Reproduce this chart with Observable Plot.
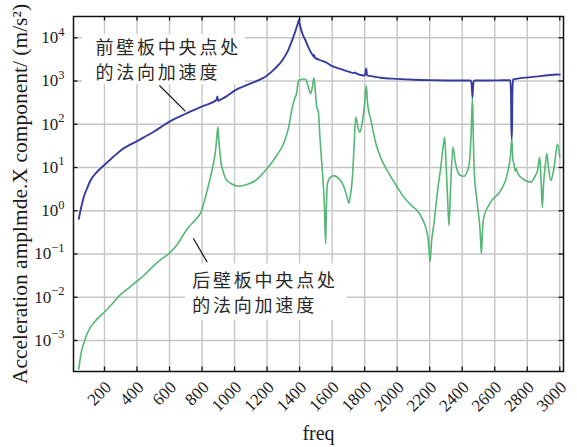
<!DOCTYPE html>
<html>
<head>
<meta charset="utf-8">
<script src="https://cdn.jsdelivr.net/npm/d3@7"></script>
<script src="https://cdn.jsdelivr.net/npm/@observablehq/plot@0.6"></script>
<style>
  html, body { margin: 0; padding: 0; background: #fff; }
  #chart { width: 577px; height: 447px; }
</style>
</head>
<body>
<div id="chart"></div>
<script>
// Front wall panel, centre point: normal acceleration (frequency Hz, m/s^2)
const frontFreq = [42, 52, 62, 72, 90, 114, 150, 196, 250, 300, 400, 500, 600, 700, 790, 850, 880, 890, 894, 898, 905, 950, 1000, 1100, 1200, 1250, 1293, 1330, 1354, 1375, 1390, 1396, 1402, 1415, 1436, 1460, 1480, 1486, 1489, 1493, 1520, 1560, 1591, 1650, 1700, 1734, 1742, 1750, 1797, 1803, 1810, 1815, 1850, 1898, 2000, 2104, 2200, 2309, 2400, 2450, 2456, 2460, 2463, 2466, 2470, 2476, 2550, 2650, 2696, 2700, 2703, 2706, 2709, 2713, 2719, 2822, 2900, 2985, 3000];
const frontAcc  = [0.65, 1.0, 1.45, 2.05, 3.1, 5.0, 7.6, 11.1, 17, 24.8, 40.6, 66, 115, 175, 250, 305, 345, 380, 440, 345, 355, 440, 600, 880, 1340, 1950, 2990, 5200, 8700, 14500, 22000, 26000, 20000, 13000, 8700, 5400, 4000, 3700, 4000, 3500, 3100, 2730, 2300, 1900, 1650, 1520, 1580, 1480, 1340, 1400, 1950, 1350, 1280, 1190, 1120, 1070, 1045, 1030, 1025, 1030, 950, 650, 420, 650, 950, 1030, 1030, 1040, 1045, 500, 46, 46, 600, 1080, 1100, 1230, 1320, 1415, 1400];

// Rear wall panel, centre point: normal acceleration (frequency Hz, m/s^2)
const rearFreq = [42, 52, 62, 72, 93, 114, 150, 198, 250, 298, 350, 400, 450, 503, 550, 600, 650, 688, 720, 760, 797, 820, 842, 865, 883, 892, 897, 902, 915, 930, 945, 980, 1027, 1080, 1129, 1190, 1252, 1300, 1334, 1350, 1370, 1381, 1390, 1396, 1410, 1426, 1440, 1455, 1467, 1478, 1488, 1495, 1505, 1515, 1525, 1540, 1552, 1560, 1565, 1571, 1590, 1611, 1640, 1670, 1690, 1703, 1712, 1725, 1735, 1745, 1752, 1760, 1772, 1785, 1800, 1810, 1818, 1839, 1870, 1898, 1950, 2001, 2042, 2090, 2124, 2155, 2175, 2192, 2202, 2212, 2226, 2250, 2268, 2285, 2292, 2300, 2310, 2319, 2328, 2343, 2355, 2370, 2390, 2411, 2430, 2443, 2455, 2463, 2468, 2473, 2493, 2510, 2518, 2525, 2533, 2575, 2637, 2678, 2698, 2705, 2712, 2719, 2725, 2732, 2740, 2780, 2822, 2850, 2863, 2877, 2885, 2893, 2900, 2912, 2920, 2932, 2945, 2965, 2986, 3000];
const rearAcc  = [2.2e-4, 4.1e-4, 6.5e-4, 8.4e-4, 1.43e-3, 2.03e-3, 3.0e-3, 4.5e-3, 7.2e-3, 0.0115, 0.0165, 0.0235, 0.034, 0.054, 0.076, 0.105, 0.17, 0.29, 0.43, 0.62, 1.0, 2.0, 4.2, 10, 24.8, 55, 86, 50, 14.4, 8, 5.5, 4.2, 3.7, 4.1, 5.0, 8.5, 17.3, 35, 90, 200, 400, 507, 900, 1050, 1080, 1130, 1050, 700, 510, 700, 1180, 700, 250, 200, 50, 8, 1.5, 0.17, 1.3, 4.2, 6.0, 6.5, 5.6, 3.8, 2.2, 1.5, 2.2, 6, 30, 146, 120, 80, 66, 110, 300, 790, 300, 123, 35, 17.3, 7.2, 3.5, 2.04, 1.3, 1.0, 0.65, 0.42, 0.2, 0.066, 0.2, 0.5, 3.2, 10, 35, 50, 15, 2.0, 0.45, 3, 29.5, 15, 8.5, 6.5, 6.3, 8, 12.2, 60, 420, 60, 10, 1.45, 0.35, 0.1, 0.35, 0.71, 1.58, 2.95, 7.2, 21, 46, 15, 12.2, 8.3, 9.5, 7.5, 5.2, 4.6, 6.5, 8.5, 17.4, 5, 1.2, 4, 12, 21, 9, 5, 10, 35, 17.4];

// Axis ticks
const xTicks = [200, 400, 600, 800, 1000, 1200, 1400, 1600, 1800, 2000, 2200, 2400, 2600, 2800, 3000];
const yExponents = [-3, -2, -1, 0, 1, 2, 3, 4];

// Texts
const xLabel = "freq";
const yLabel = "Acceleration amplmde.X component/ (m/s²)";
const frontNote = "前壁板中央点处\n的法向加速度";
const rearNote = "后壁板中央点处\n的法向加速度";

const front = frontFreq.map((f, i) => ({f, a: frontAcc[i]}));
const rear = rearFreq.map((f, i) => ({f, a: rearAcc[i]}));
const yTicks = yExponents.map(e => Math.pow(10, e));

// Frame geometry
const W = 577, H = 447;
const mL = 73, mR = 14, mT = 16, mB = 76;
const fw = W - mL - mR, fh = H - mT - mB;
const tickLen = 4.5;

// Annotation anchors (in data units)
const frontBox = {x1: 65, x2: 1067, y1: 830, y2: 11800};
const rearBox = {x1: 698, x2: 1693, y1: 0.0029, y2: 0.059};
const frontText = {f: 144, a: 3320, t: frontNote};
const rearText = {f: 739, a: 0.0136, t: rearNote};
const frontLeader = {x1: 538, y1: 789, x2: 698, y2: 198};
const rearLeader = {x1: 746, y1: 0.232, x2: 832, y2: 0.0645};

const blue = "#363c9e";
const green = "#55b676";
const gridColor = "#c6c6c6";

const chart = Plot.plot({
  width: W,
  height: H,
  marginLeft: mL,
  marginRight: mR,
  marginTop: mT,
  marginBottom: mB,
  style: {fontFamily: "'Liberation Serif', 'Times New Roman', serif", fontSize: "17px", color: "#1a1a1a", background: "#fff"},
  x: {type: "linear", domain: [9.4, 3023], axis: null},
  y: {type: "log", domain: [1.92e-4, 3.1e4], axis: null},
  marks: [
    Plot.gridX(xTicks, {stroke: gridColor, strokeOpacity: 1, strokeWidth: 1.4}),
    Plot.gridY(yTicks, {stroke: gridColor, strokeOpacity: 1, strokeWidth: 1.4}),
    Plot.line(rear, {x: "f", y: "a", stroke: green, strokeWidth: 1.6, curve: "monotone-x"}),
    Plot.line(front, {x: "f", y: "a", stroke: blue, strokeWidth: 1.9, curve: "monotone-x"}),
    // white boxes behind the notes
    Plot.rect([frontBox, rearBox], {x1: "x1", x2: "x2", y1: "y1", y2: "y2", fill: "#fff"}),
    Plot.link([frontLeader, rearLeader], {x1: "x1", y1: "y1", x2: "x2", y2: "y2", stroke: "#111", strokeWidth: 1.2}),
    Plot.text([frontText, rearText], {
      x: "f", y: "a", text: "t", textAnchor: "start", lineAnchor: "middle", lineHeight: 1.38,
      fontFamily: "'Noto Sans CJK SC', sans-serif", fontSize: 18, fill: "#2a2a2a"
    }),
    // inward ticks on all four sides
    Plot.ruleX(xTicks, {x: d => d, insetTop: fh - tickLen, stroke: "#111", strokeWidth: 1.3}),
    Plot.ruleX(xTicks, {x: d => d, insetBottom: fh - tickLen, stroke: "#111", strokeWidth: 1.3}),
    Plot.ruleY(yTicks, {y: d => d, insetRight: fw - tickLen, stroke: "#111", strokeWidth: 1.3}),
    Plot.ruleY(yTicks, {y: d => d, insetLeft: fw - tickLen, stroke: "#111", strokeWidth: 1.3}),
    Plot.frame({stroke: "#111", strokeWidth: 1.5}),
    // tick labels
    Plot.text(xTicks, {x: d => d, frameAnchor: "bottom", text: d => String(d), rotate: -45,
      textAnchor: "end", lineAnchor: "middle", dx: 4, dy: 13, fontSize: 17, fill: "#1a1a1a"}),
    Plot.text(yExponents, {y: d => Math.pow(10, d), frameAnchor: "left", text: d => "e" + d,
      textAnchor: "end", lineAnchor: "middle", dx: -9, fontSize: 17, fill: "#1a1a1a"}),
    // axis titles
    Plot.text([xLabel], {frameAnchor: "bottom", text: d => d, textAnchor: "middle", dy: 68, fontSize: 20, fill: "#1a1a1a"}),
    Plot.text([yLabel], {frameAnchor: "left", text: d => d, rotate: -90, textAnchor: "middle", dx: -53, fontSize: 21.5, fill: "#1a1a1a"})
  ]
});

// powers of ten with raised exponents; spaced-out CJK notes
d3.select(chart).selectAll("text").each(function () {
  const t = d3.select(this);
  const s = this.textContent;
  const m = /^e(-?\d+)$/.exec(s);
  if (m) {
    t.text(null);
    t.append("tspan").text("10");
    t.append("tspan").attr("font-size", 12.5).attr("dy", "-0.6em").text(m[1].replace("-", "\u2212"));
  } else if (/[\u4e00-\u9fff]/.test(s)) {
    t.style("letter-spacing", "2.8px");
  }
});

document.getElementById("chart").append(chart);
</script>
</body>
</html>
